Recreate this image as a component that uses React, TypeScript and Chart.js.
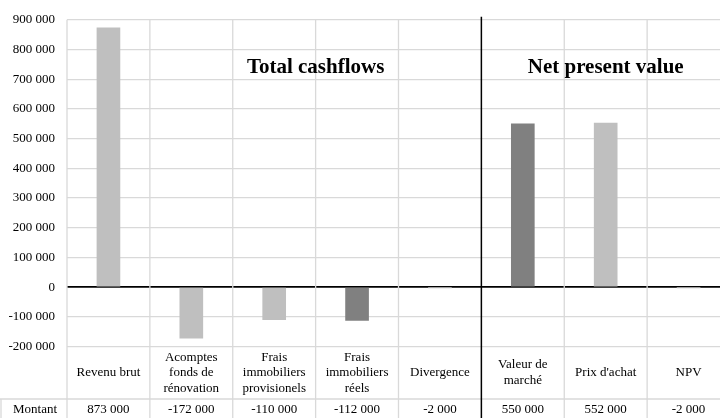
import React, { useEffect, useRef } from "react";
import { Chart, registerables } from "chart.js";

Chart.register(...registerables);

const categories: string[][] = [
  ["Revenu brut"],
  ["Acomptes", "fonds de", "rénovation"],
  ["Frais", "immobiliers", "provisionels"],
  ["Frais", "immobiliers", "réels"],
  ["Divergence"],
  ["Valeur de", "marché"],
  ["Prix d'achat"],
  ["NPV"],
];
const values = [873000, -172000, -110000, -112000, -2000, 550000, 552000, -2000];
const barColors = ["#bfbfbf", "#bfbfbf", "#bfbfbf", "#808080", "#bfbfbf", "#808080", "#bfbfbf", "#bfbfbf"];
const rowLabel = "Montant";
const yMin = -200000;
const yMax = 900000;
const yStep = 100000;
const titleTexts = ["Total cashflows", "Net present value"];
const titleFrom = [1, 5];
const titleTo = [4, 7];
const dividerAfter = 4;

const FONT = '"Liberation Serif", "Times New Roman", serif';

function fmt(v: number): string {
  const s = Math.abs(Math.round(v)).toString().replace(/\B(?=(\d{3})+(?!\d))/g, " ");
  return (v < 0 ? "-" : "") + s;
}

const tablePlugin = {
  id: "tablePlugin",
  afterDraw(chart: any) {
    const { ctx, chartArea, scales } = chart;
    const { top, bottom } = chartArea;
    const x = scales.x;
    const w = x.getPixelForValue(1) - x.getPixelForValue(0);
    const x0 = x.getPixelForValue(0) - w / 2;
    const H = chart.height;
    const labelRowBottom = bottom + 52.5;
    ctx.save();
    // gray vertical lines
    ctx.strokeStyle = "#d9d9d9";
    ctx.lineWidth = 1.3;
    for (let i = 0; i <= categories.length; i++) {
      if (i === dividerAfter + 1) continue;
      const xb = x0 + i * w;
      ctx.beginPath();
      ctx.moveTo(xb, top);
      ctx.lineTo(xb, H);
      ctx.stroke();
    }
    // table horizontal line and left border
    ctx.beginPath();
    ctx.moveTo(0, labelRowBottom);
    ctx.lineTo(chart.width, labelRowBottom);
    ctx.stroke();
    ctx.beginPath();
    ctx.moveTo(1, labelRowBottom);
    ctx.lineTo(1, H);
    ctx.stroke();

    // category labels
    ctx.fillStyle = "#000";
    ctx.font = "13px " + FONT;
    ctx.textAlign = "center";
    ctx.textBaseline = "middle";
    const lh = 15.5;
    const mid = (bottom + labelRowBottom) / 2;
    categories.forEach((lines, i) => {
      const cx = x.getPixelForValue(i);
      const y0 = mid - ((lines.length - 1) / 2) * lh;
      lines.forEach((ln, j) => ctx.fillText(ln, cx, y0 + j * lh));
    });
    // value row
    const rowMid = labelRowBottom + 11;
    ctx.fillText(rowLabel, (1 + x0) / 2 + 1, rowMid);
    values.forEach((v, i) => {
      ctx.fillText(fmt(v), x.getPixelForValue(i), rowMid);
    });

    // black divider
    ctx.strokeStyle = "#000";
    ctx.lineWidth = 1.5;
    const xd = x0 + (dividerAfter + 1) * w;
    ctx.beginPath();
    ctx.moveTo(xd, top - 3);
    ctx.lineTo(xd, H);
    ctx.stroke();

    // section titles
    ctx.font = "bold 21px " + FONT;
    ctx.textBaseline = "alphabetic";
    titleTexts.forEach((t, k) => {
      const a = x.getPixelForValue(titleFrom[k]) - w / 2;
      const b = x.getPixelForValue(titleTo[k]) + w / 2;
      ctx.fillText(t, (a + b) / 2, top + 53.5);
    });
    ctx.restore();
  },
};

export default function App() {
  const ref = useRef<HTMLCanvasElement>(null);
  useEffect(() => {
    if (!ref.current) return;
    const chart = new Chart(ref.current, {
      type: "bar",
      data: {
        labels: categories.map((c) => c.join(" ")),
        datasets: [
          {
            data: values,
            backgroundColor: barColors,
            borderWidth: 0,
            barThickness: 23,
          },
        ],
      },
      options: {
        responsive: false,
        animation: false,
        devicePixelRatio: 1,
        layout: { padding: { top: 17, bottom: 71.5, left: 0, right: 4 } },
        plugins: { legend: { display: false }, tooltip: { enabled: false }, title: { display: false } },
        scales: {
          x: { display: false, offset: true, grid: { display: false } },
          y: {
            min: yMin,
            max: yMax,
            afterFit: (s: any) => {
              s.width = 67;
            },
            ticks: {
              stepSize: yStep,
              padding: 12,
              color: "#000",
              font: { family: FONT, size: 13 },
              callback: (v: any) => fmt(Number(v)),
            },
            border: { display: false },
            grid: {
              drawTicks: false,
              color: (c: any) => (c.tick && c.tick.value === 0 ? "#000" : "#d9d9d9"),
              lineWidth: (c: any) => (c.tick && c.tick.value === 0 ? 1.8 : 1.3),
            },
          },
        },
      },
      plugins: [tablePlugin],
    });
    return () => chart.destroy();
  }, []);
  return (
    <div style={{ position: "fixed", left: 0, top: 0, width: 720, height: 418, overflow: "hidden", background: "#fff" }}>
      <canvas ref={ref} width={734} height={418} style={{ display: "block", width: 734, height: 418 }} />
    </div>
  );
}
